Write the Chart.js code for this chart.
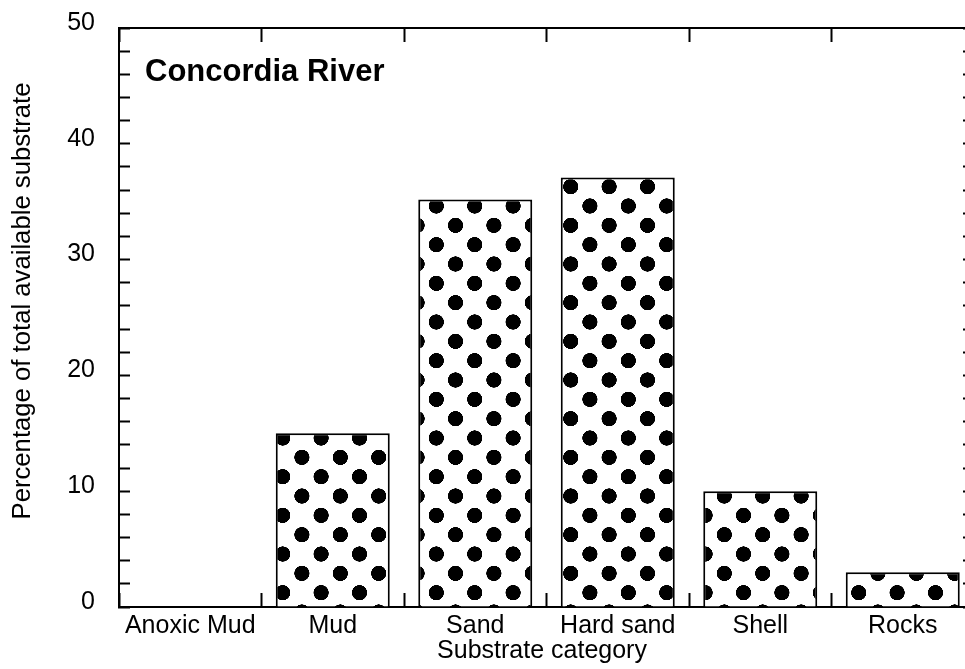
<!DOCTYPE html>
<html>
<head>
<meta charset="utf-8">
<title>Concordia River substrate</title>
<script src="https://cdn.jsdelivr.net/npm/chart.js@4.4.1/dist/chart.umd.min.js"></script>
<style>
  html, body { margin: 0; padding: 0; background: #fff; overflow: hidden; width: 965px; height: 669px; }
  #wrap { position: absolute; left: 0; top: 0; width: 990px; height: 669px; }
</style>
</head>
<body>
<div id="wrap"><canvas id="chart" width="990" height="669"></canvas></div>
<script>
// data
const categories = ["Anoxic Mud", "Mud", "Sand", "Hard sand", "Shell", "Rocks"];
const percentages = [0, 15, 35.2, 37.1, 10, 3];
const yTicks = [0, 2, 4, 6, 8, 10, 12, 14, 16, 18, 20, 22, 24, 26, 28, 30, 32, 34, 36, 38, 40, 42, 44, 46, 48, 50];
const yLabelled = [0, 10, 20, 30, 40, 50];
const panelLabel = "Concordia River";
const xTitle = "Substrate category";
const yTitle = "Percentage of total available substrate";

const FONT = "'Liberation Sans', Arial, Helvetica, sans-serif";
Chart.defaults.font.family = FONT;
Chart.defaults.color = "#000";

const canvas = document.getElementById("chart");

// polka dot fill, anchored to the canvas so every bar shares the same lattice
function dotPattern() {
  const T = 192;
  const tile = document.createElement("canvas");
  tile.width = T;
  tile.height = T;
  const c = tile.getContext("2d");
  c.fillStyle = "#fff";
  c.fillRect(0, 0, T, T);
  c.fillStyle = "#000";
  const r = 38;
  [[0, 0], [T, 0], [0, T], [T, T], [T / 2, T / 2]].forEach(([x, y]) => {
    c.beginPath();
    c.arc(x, y, r, 0, Math.PI * 2);
    c.fill();
  });
  const p = canvas.getContext("2d").createPattern(tile, "repeat");
  p.setTransform(new DOMMatrix().translate(13.9, 12.65).scale(38.4 / T, 38.67 / T));
  return p;
}

const textLabels = {
  id: "textLabels",
  afterDraw(chart) {
    const ctx = chart.ctx;
    ctx.save();
    ctx.fillStyle = "#000";
    ctx.textBaseline = "alphabetic";
    ctx.font = "bold 31px " + FONT;
    ctx.textAlign = "left";
    ctx.fillText(panelLabel, 145, 81);
    ctx.font = "25px " + FONT;
    ctx.textAlign = "center";
    ctx.fillText(xTitle, 542, 658);
    ctx.font = "25.7px " + FONT;
    ctx.translate(30, 301);
    ctx.rotate(-Math.PI / 2);
    ctx.fillText(yTitle, 0, 0);
    ctx.restore();
  }
};

const tickGrid = (len) => ({
  drawOnChartArea: false,
  drawTicks: true,
  tickLength: len,
  tickWidth: 2,
  tickColor: "#000"
});
const frame = { display: true, color: "#000", width: 2 };

// fixed box sizes so the plot frame lands where the original has it
const sizeV = (w) => (s) => { s.width = w; s.paddingTop = 0; s.paddingBottom = 0; };
const sizeH = (h) => (s) => { s.height = h; s.paddingLeft = 0; s.paddingRight = 0; };

new Chart(canvas, {
  type: "bar",
  data: {
    labels: categories,
    datasets: [
      {
        data: percentages,
        backgroundColor: dotPattern(),
        borderColor: "#000",
        borderWidth: (c) => (c.raw > 0 ? 2 : 0),
        barPercentage: 0.8,
        categoryPercentage: 1
      }
    ]
  },
  plugins: [textLabels],
  options: {
    responsive: false,
    devicePixelRatio: 1,
    animation: false,
    layout: { padding: 0 },
    plugins: {
      legend: { display: false },
      tooltip: { enabled: false },
      title: { display: false }
    },
    scales: {
      x: {
        type: "category",
        position: "bottom",
        offset: true,
        grid: Object.assign({ offset: true }, tickGrid(-14)),
        border: frame,
        ticks: {
          font: { size: 25 },
          padding: 18,
          autoSkip: false,
          maxRotation: 0
        },
        afterFit: sizeH(62)
      },
      xTop: {
        axis: "x",
        type: "category",
        position: "top",
        offset: true,
        grid: Object.assign({ offset: true }, tickGrid(-14)),
        border: frame,
        ticks: { autoSkip: false, callback: () => "" },
        afterFit: sizeH(28)
      },
      y: {
        type: "linear",
        position: "left",
        min: 0,
        max: 50,
        grid: tickGrid(-11),
        border: frame,
        afterBuildTicks: (s) => { s.ticks = yTicks.map((v) => ({ value: v })); },
        ticks: {
          autoSkip: false,
          font: { size: 25 },
          padding: 35,
          labelOffset: -5,
          callback: (v) => (yLabelled.includes(v) ? String(v) : "")
        },
        afterFit: sizeV(119)
      },
      yRight: {
        axis: "y",
        type: "linear",
        position: "right",
        min: 0,
        max: 50,
        grid: tickGrid(-11),
        border: frame,
        afterBuildTicks: (s) => { s.ticks = yTicks.map((v) => ({ value: v })); },
        ticks: { autoSkip: false, padding: 0, callback: () => "" },
        afterFit: sizeV(16)
      }
    }
  }
});
</script>
</body>
</html>
